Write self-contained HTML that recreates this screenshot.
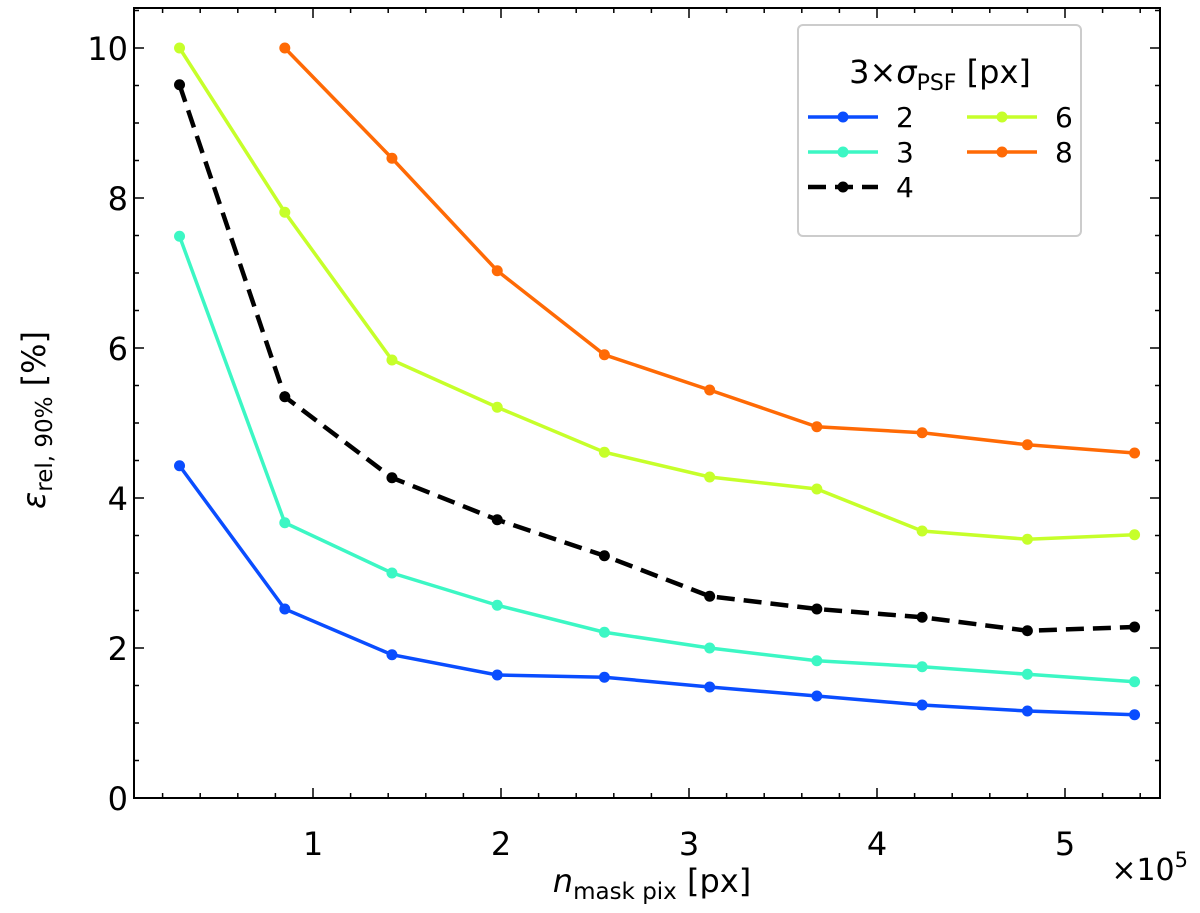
<!DOCTYPE html>
<html><head><meta charset="utf-8"><style>
body{margin:0;background:#fff;}
svg{display:block;font-family:"DejaVu Sans","Liberation Sans",sans-serif;}
</style></head><body>
<svg id="chart" width="1200" height="913"></svg>
<script>
const xVals=[0.29,0.85,1.42,1.98,2.55,3.11,3.68,4.24,4.80,5.37];
const s2=[4.43,2.52,1.91,1.64,1.61,1.48,1.36,1.24,1.16,1.11];
const s3=[7.49,3.67,3.0,2.57,2.21,2.0,1.83,1.75,1.65,1.55];
const s4=[9.51,5.35,4.27,3.71,3.23,2.69,2.52,2.41,2.23,2.28];
const s6=[10.0,7.81,5.84,5.21,4.61,4.28,4.12,3.56,3.45,3.51];
const s8=[null,10.0,8.53,7.03,5.91,5.44,4.95,4.87,4.71,4.6];
const seriesNames=["2","3","4","6","8"];
const xTicks=[1,2,3,4,5];
const yTicks=[0,2,4,6,8,10];
const NS="http://www.w3.org/2000/svg";
const svg=document.getElementById('chart');
const L=134,R=1160,T=8,B=798;
const X=v=>125+188*v;
const Y=v=>B-75*v;
function mk(tag,attrs,parent){const e=document.createElementNS(NS,tag);for(const k in attrs)e.setAttribute(k,attrs[k]);(parent||svg).appendChild(e);return e;}
for(let v=0.2;v<5.8;v+=0.2){const x=X(v);if(x<L||x>R)continue;const major=Math.abs(v-Math.round(v))<1e-6;const len=major?10:5;
 const t1=mk('line',{x1:x,x2:x,y1:B,y2:B-len,stroke:'#000','stroke-width':1.5});
 
 mk('line',{x1:x,x2:x,y1:T,y2:T+len,stroke:'#000','stroke-width':1.5});}
for(let v=0;v<=10.5;v+=0.5){const y=Y(v);const major=Math.abs(v/2-Math.round(v/2))<1e-6;const len=major?10:5;
 const t=mk('line',{x1:L,x2:L+len,y1:y,y2:y,stroke:'#000','stroke-width':1.5});
 
 mk('line',{x1:R,x2:R-len,y1:y,y2:y,stroke:'#000','stroke-width':1.5});}
xTicks.forEach(v=>{const t=mk('text',{x:X(v),y:B+57,'font-size':32,'text-anchor':'middle'});t.textContent=v;
 });
yTicks.forEach(v=>{const t=mk('text',{x:L-6,y:Y(v)+12,'font-size':32,'text-anchor':'end'});t.textContent=v;
 });
const data=[s2,s3,s4,s6,s8];
const colors=['#0a4dff','#3cf7c4','#000000','#c6ff2a','#ff6a05'];
data.forEach((arr,i)=>{
 const g=mk('g',{});
 
 
 const pts=[];arr.forEach((v,j)=>{if(v!==null)pts.push([X(xVals[j]),Y(v)]);});
 const pl=mk('polyline',{points:pts.map(p=>p.join(',')).join(' '),fill:'none',stroke:colors[i],'stroke-width':i===2?4.5:3.5,'stroke-dasharray':i===2?'18,9':'none'},g);
 
 pts.forEach(p=>{const c=mk('circle',{cx:p[0],cy:p[1],r:5.5,fill:colors[i]},g);
  });
});
const fr=mk('rect',{x:L,y:T,width:R-L,height:B-T,fill:'none',stroke:'#000','stroke-width':2});

const lg=mk('g',{});

mk('rect',{x:798,y:25,width:283,height:211,rx:5,fill:'#fff',stroke:'#ccc','stroke-width':2},lg);
const lt=mk('text',{x:940,y:83,'font-size':32,'text-anchor':'middle'},lg);
lt.innerHTML='3×<tspan font-style="italic">σ</tspan><tspan font-size="22" dy="7">PSF</tspan><tspan dy="-7"> [px]</tspan>';

const pos=[[808,117],[808,152],[808,187],[967,117],[967,152]];
seriesNames.forEach((n,i)=>{const [x,y]=pos[i];
 const e=mk('g',{},lg);
 mk('line',{x1:x,x2:x+70,y1:y,y2:y,stroke:colors[i],'stroke-width':i===2?4.5:3.5,'stroke-dasharray':i===2?'18,9':'none'},e);
 mk('circle',{cx:x+35,cy:y,r:5.5,fill:colors[i]},e);
 const t=mk('text',{x:x+88,y:y+10,'font-size':28},e);t.textContent=n;});
const xl=mk('text',{x:652,y:892,'font-size':32,'text-anchor':'middle'});
xl.innerHTML='<tspan font-style="italic">n</tspan><tspan font-size="23" dy="7">mask pix</tspan><tspan dy="-7"> [px]</tspan>';

const xo=mk('text',{x:1188,y:880,'font-size':30,'text-anchor':'end'});
xo.innerHTML='×10<tspan font-size="21" dy="-13">5</tspan>';

const yl=mk('text',{x:0,y:0,'font-size':32,'text-anchor':'middle',transform:'translate(45,420) rotate(-90)'});
yl.innerHTML='<tspan font-style="italic">ε</tspan><tspan font-size="23" dy="7">rel, 90%</tspan><tspan dy="-7"> [%]</tspan>';

</script>
</body></html>
